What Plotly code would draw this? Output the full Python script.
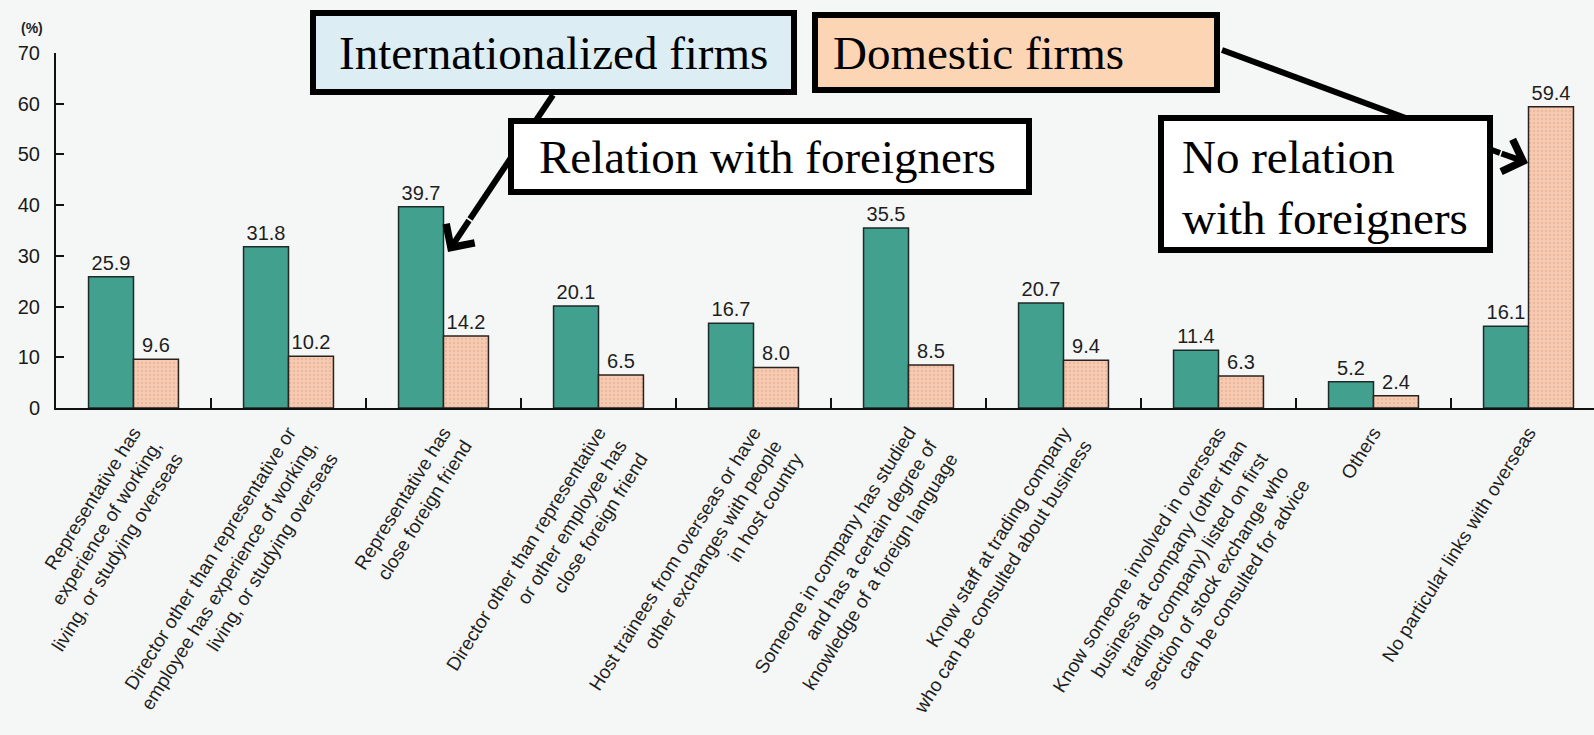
import plotly.graph_objects as go

categories = [
    "Representative has<br>experience of working,<br>living, or studying overseas",
    "Director other than representative or<br>employee has experience of working,<br>living, or studying overseas",
    "Representative has<br>close foreign friend",
    "Director other than representative<br>or other employee has<br>close foreign friend",
    "Host trainees from overseas or have<br>other exchanges with people<br>in host country",
    "Someone in company has studied<br>and has a certain degree of<br>knowledge of a foreign language",
    "Know staff at trading company<br>who can be consulted about business",
    "Know someone involved in overseas<br>business at company (other than<br>trading company) listed on first<br>section of stock exchange who<br>can be consulted for advice",
    "Others",
    "No particular links with overseas",
]
internationalized = [25.9, 31.8, 39.7, 20.1, 16.7, 35.5, 20.7, 11.4, 5.2, 16.1]
domestic = [9.6, 10.2, 14.2, 6.5, 8.0, 8.5, 9.4, 6.3, 2.4, 59.4]
y_ticks = [0, 10, 20, 30, 40, 50, 60, 70]

W, H = 1594, 735
L, R, T, B = 56, 1594, 53, 408


def px(x):
    return (x - L) / (R - L)


def py(y):
    return (B - y) / (B - T)


BG = "#f5f7f6"
GREEN = "#42a08e"
PINK = "#f5cbb3"
SANS = "Liberation Sans, Arial"

fig = go.Figure()
fig.add_trace(go.Bar(
    x=categories, y=internationalized, name="Internationalized firms",
    marker=dict(color=GREEN, line=dict(color="#1e2a28", width=1.5)),
    texttemplate="%{y:.1f}", textposition="outside", constraintext="none",
    textfont=dict(family=SANS, size=20, color="#1e1e1e"),
    cliponaxis=False,
))
fig.add_trace(go.Bar(
    x=categories, y=domestic, name="Domestic firms",
    marker=dict(color=PINK, line=dict(color="#2a2220", width=1.5),
                pattern=dict(shape=".", bgcolor=PINK, fgcolor="#e3a585",
                             size=4, solidity=0.3)),
    texttemplate="%{y:.1f}", textposition="outside", constraintext="none",
    textfont=dict(family=SANS, size=20, color="#1e1e1e"),
    cliponaxis=False,
))

fig.update_layout(
    width=W, height=H,
    margin=dict(l=L, r=W - R, t=T, b=H - B, autoexpand=False),
    paper_bgcolor=BG, plot_bgcolor=BG,
    barmode="group", bargap=0.42, bargroupgap=0,
    showlegend=False,
    font=dict(family=SANS, color="#222"),
    xaxis=dict(
        type="category", range=[-0.5, -0.5 + (R - L) / 155.0],
        showline=True, linecolor="#111", linewidth=2,
        ticks="inside", tickson="boundaries", ticklen=10, tickwidth=1.5,
        tickcolor="#111", tickangle=-58, automargin=False,
        ticklabelstandoff=4,
        tickfont=dict(family=SANS, size=19, color="#1f1f1f"),
        showgrid=False, zeroline=False,
    ),
    yaxis=dict(
        range=[0, 70], tickvals=y_ticks, showline=True, linecolor="#111",
        linewidth=2, ticks="inside", ticklen=8, tickwidth=1.5, tickcolor="#111",
        ticklabelstandoff=10,
        tickfont=dict(family=SANS, size=20, color="#1a1a1a"),
        showgrid=False, zeroline=False, automargin=False,
    ),
)

shapes = []
# connector lines (drawn first so the boxes cover their ends)
shapes.append(dict(type="line", xref="paper", yref="paper",
                   x0=px(553), y0=py(95), x1=px(470), y1=py(219),
                   line=dict(color="black", width=6)))
shapes.append(dict(type="line", xref="paper", yref="paper",
                   x0=px(1222), y0=py(50), x1=px(1500), y1=py(153),
                   line=dict(color="black", width=6)))
boxes = [
    (310, 10, 797, 95, "#dcedf3"),
    (812, 12, 1220, 93, "#fcd5b5"),
    (508, 118, 1032, 195, "white"),
    (1158, 115, 1493, 253, "white"),
]
for x0, y0, x1, y1, fill in boxes:
    shapes.append(dict(type="rect", xref="paper", yref="paper",
                       x0=px(x0 + 3), y0=py(y0 + 3), x1=px(x1 - 3), y1=py(y1 - 3),
                       fillcolor=fill, line=dict(color="black", width=6), layer="above"))
fig.update_layout(shapes=shapes)

serif = dict(family="Liberation Serif, Times New Roman", size=47, color="black")
anns = [
    dict(x=px(448), y=py(252), xref="paper", yref="paper", text="",
         showarrow=True, ax=22, ay=-33, arrowhead=4, arrowsize=1.1,
         arrowwidth=6, arrowcolor="black", standoff=0),
    dict(x=px(1528), y=py(163), xref="paper", yref="paper", text="",
         showarrow=True, ax=-28, ay=-10, arrowhead=4, arrowsize=1.1,
         arrowwidth=6, arrowcolor="black", standoff=0),
    dict(x=px(553), y=py(52.5), xref="paper", yref="paper", text="Internationalized firms",
         showarrow=False, xanchor="center", yanchor="middle", font=serif),
    dict(x=px(831), y=py(52.5), xref="paper", yref="paper", text="Domestic firms",
         showarrow=False, xanchor="left", yanchor="middle", font=serif),
    dict(x=px(767), y=py(157), xref="paper", yref="paper", text="Relation with foreigners",
         showarrow=False, xanchor="center", yanchor="middle", font=serif),
    dict(x=px(1180), y=py(187), xref="paper", yref="paper",
         text="No relation<br>with foreigners", align="left",
         showarrow=False, xanchor="left", yanchor="middle", font=serif),
    dict(x=px(32), y=py(28), xref="paper", yref="paper", text="<b>(%)</b>",
         showarrow=False, xanchor="center", yanchor="middle",
         font=dict(family=SANS, size=14, color="#222")),
]
fig.update_layout(annotations=anns)

fig.write_html("out.html", config={"displayModeBar": False},
               post_script="document.body.style.margin='0';")
